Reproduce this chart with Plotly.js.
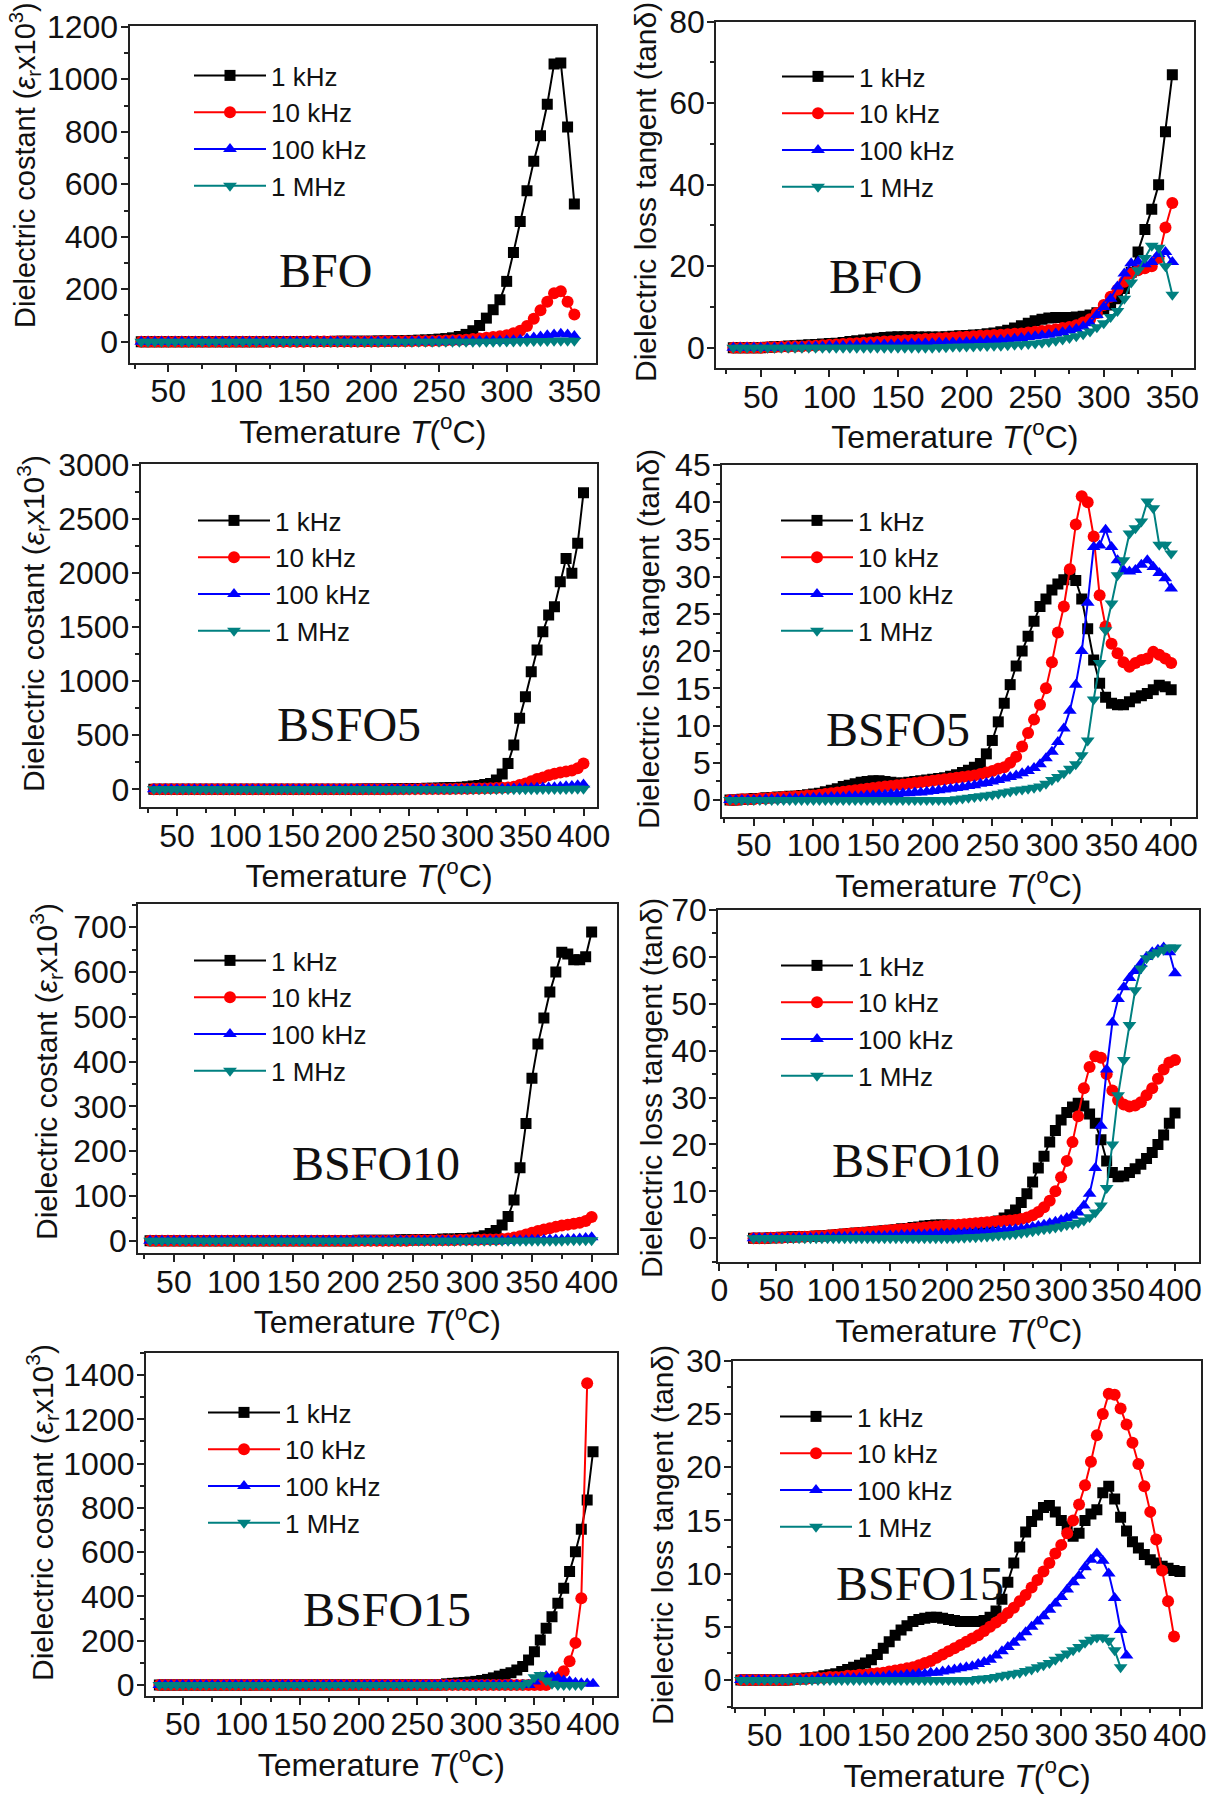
<!DOCTYPE html>
<html>
<head>
<meta charset="utf-8">
<script src="https://cdn.plot.ly/plotly-3.0.1.min.js"></script>
<style>html,body{margin:0;padding:0;background:#fff;}#chart{width:1216px;height:1794px;}</style>
</head>
<body>
<div id="chart"></div>
<script>
// ---------------- DATA ----------------
const T350 = [30,35,40,45,50,55,60,65,70,75,80,85,90,95,100,105,110,115,120,125,130,135,140,145,150,155,160,165,170,175,180,185,190,195,200,205,210,215,220,225,230,235,240,245,250,255,260,265,270,275,280,285,290,295,300,305,310,315,320,325,330,335,340,345,350];
const T400 = [30,35,40,45,50,55,60,65,70,75,80,85,90,95,100,105,110,115,120,125,130,135,140,145,150,155,160,165,170,175,180,185,190,195,200,205,210,215,220,225,230,235,240,245,250,255,260,265,270,275,280,285,290,295,300,305,310,315,320,325,330,335,340,345,350,355,360,365,370,375,380,385,390,395,400];

const freqLabels = ['1 kHz', '10 kHz', '100 kHz', '1 MHz'];
const samples = ['BFO', 'BSFO5', 'BSFO10', 'BSFO15'];
const epsTitle = 'Dielectric costant (<i>ε</i><sub>r</sub>x10<sup>3</sup>)';
const tanTitle = 'Dielectric loss tangent (tanδ)';
const xTitle = 'Temerature <i>T</i>(<sup>o</sup>C)';

// BFO dielectric constant
const bfoEps1k = [0,0,0,0,0,0,0,0,0,0, 0,0,0,0,0,0,0,0,0,1, 1,1,1,1,1,1,1,1,1,2, 2,2,2,2,2,3,3,3,4,4, 5,6,7,8,10,12,15,20,28,42, 62,90,122,160,230,340,458,575,688,785, 905,1058,1062,818,525];
const bfoEps10k = [0,0,0,0,0,0,0,0,0,0, 0,0,0,0,0,0,0,0,0,0, 0,0,0,0,0,1,1,1,1,1, 1,1,1,1,1,1,2,2,2,2, 2,3,3,3,4,5,6,7,8,10, 12,15,18,21,25,32,42,60,88,120, 152,185,192,152,104];
const bfoEps100k = [0,0,0,0,0,0,0,0,0,0, 0,0,0,0,0,0,0,0,0,0, 0,0,0,0,0,0,0,0,0,0, 0,0,0,0,0,0,0,0,0,0, 1,1,1,1,1,1,2,2,2,2, 3,3,4,4,5,6,8,12,16,20, 25,28,30,28,22];
const bfoEps1M = [0,0,0,0,0,0,0,0,0,0, 0,0,0,0,0,0,0,0,0,0, 0,0,0,0,0,0,0,0,0,0, 0,0,0,0,0,0,0,0,0,0, 0,0,0,0,0,0,0,0,0,0, 0,0,0,1,1,1,2,2,3,3, 3,4,4,4,4];

// BFO loss tangent
const bfoTan1k = [0,0,0,0,0,0.1,0.2,0.3,0.4,0.5, 0.6,0.7,0.8,0.9,1.0,1.1,1.3,1.5,1.7,1.9, 2.1,2.3,2.5,2.6,2.7,2.7,2.7,2.6,2.6,2.6, 2.6,2.7,2.8,2.9,3.0,3.1,3.2,3.4,3.6,3.9, 4.3,4.8,5.4,6.0,6.6,7.0,7.3,7.4,7.4,7.4, 7.5,7.7,8.0,8.6,9.5,10.5,12,14.5,18.5,23.5, 29,34,40,53,67];
const bfoTan10k = [0,0,0,0,0,0.1,0.1,0.2,0.2,0.3, 0.3,0.4,0.5,0.6,0.7,0.8,0.9,1.0,1.1,1.2, 1.3,1.4,1.5,1.6,1.7,1.8,1.9,2.0,2.1,2.2, 2.3,2.4,2.5,2.6,2.7,2.8,2.9,3.0,3.1,3.2, 3.3,3.4,3.5,3.7,3.9,4.1,4.3,4.5,4.8,5.1, 5.5,6.2,7.0,8.5,10.5,12.5,14.2,16.2,18.2,19, 19.5,20,22,29.5,35.5];
const bfoTan100k = [0,0,0,0,0,0,0,0.1,0.1,0.1, 0.2,0.2,0.3,0.3,0.4,0.4,0.5,0.5,0.6,0.6, 0.7,0.7,0.8,0.8,0.9,0.9,1.0,1.0,1.1,1.1, 1.2,1.2,1.3,1.3,1.4,1.5,1.6,1.7,1.8,1.9, 2.0,2.2,2.4,2.6,2.8,3.0,3.2,3.5,3.8,4.2, 4.6,5.2,6.0,8.0,10,12,15,18.2,20.7,21.1, 20.5,21,23,23.5,21];
const bfoTan1M = [0,0,0,0,0,0,0,0,0,0, 0,0,0,0,0,0,0,0,0,0, 0,0,0,0,0,0,0,0,0,0, 0.1,0.1,0.2,0.2,0.3,0.3,0.4,0.4,0.5,0.5, 0.6,0.7,0.8,0.9,1.0,1.2,1.4,1.7,2.0,2.4, 2.8,3.3,4.0,5.0,6.0,7.5,9,12,16,19, 22,25,24.5,20,13];

// BSFO5 dielectric constant
const bsfo5Eps1k = [0,0,0,0,0,0,0,0,0,0, 0,0,0,0,0,0,0,0,0,0, 0,0,0,0,0,1,1,1,1,1, 1,1,2,2,2,2,3,3,3,4, 4,5,5,6,7,8,9,10,11,12, 14,16,18,20,25,30,36,45,55,86, 142,240,410,657,857,1088,1289,1458,1612,1689, 1921,2136,1998,2275,2744];
const bsfo5Eps10k = [0,0,0,0,0,0,0,0,0,0, 0,0,0,0,0,0,0,0,0,0, 0,0,0,0,0,1,1,1,1,1, 1,1,1,1,1,1,1,1,1,1, 1,1,2,2,2,2,3,3,3,3, 4,4,5,5,6,7,8,9,10,12, 14,18,25,40,55,75,95,110,130,145, 155,165,175,195,240];
const bsfo5Eps100k = [0,0,0,0,0,0,0,0,0,0, 0,0,0,0,0,0,0,0,0,0, 0,0,0,0,0,0,0,0,0,0, 0,0,0,0,0,0,0,0,0,0, 0,0,0,0,0,0,0,0,0,0, 1,1,2,2,2,3,3,4,4,5, 5,6,7,8,10,12,14,16,18,20, 24,28,32,38,45];
const bsfo5Eps1M = [0,0,0,0,0,0,0,0,0,0, 0,0,0,0,0,0,0,0,0,0, 0,0,0,0,0,0,0,0,0,0, 0,0,0,0,0,0,0,0,0,0, 0,0,0,0,0,0,0,0,0,0, 0,0,0,0,0,0,0,0,0,0, 0,1,1,1,2,2,2,3,3,3, 4,4,5,5,6];

// BSFO5 loss tangent
const bsfo5Tan1k = [0,0,0.1,0.1,0.2,0.2,0.3,0.3,0.4,0.4, 0.5,0.5,0.6,0.7,0.8,0.9,1.1,1.3,1.5,1.8, 2.0,2.2,2.4,2.5,2.6,2.6,2.5,2.4,2.3,2.3, 2.4,2.5,2.6,2.7,2.8,2.9,3.0,3.2,3.4,3.7, 4.0,4.4,4.9,6.2,8.0,10.5,13,15.5,18,20, 22,24,26,27,28.2,29,29.6,30.3,29.5,27, 23,18.8,15.7,13.8,13,12.8,12.8,13.2,13.7,14, 14.3,14.8,15.4,15.2,14.8];
const bsfo5Tan10k = [0,0,0.1,0.1,0.1,0.2,0.2,0.3,0.3,0.4, 0.4,0.5,0.5,0.6,0.6,0.7,0.8,0.9,1.0,1.1, 1.2,1.3,1.4,1.5,1.6,1.7,1.8,1.9,2.0,2.1, 2.2,2.3,2.4,2.5,2.6,2.7,2.8,2.9,3.0,3.1, 3.2,3.3,3.5,3.7,3.9,4.2,4.4,5.0,5.8,7.2, 9.0,10.8,12.8,15,18.5,22.5,26,31,37,40.8, 40,35.4,27.5,23.3,21,19.7,18.5,17.9,18.4,18.8, 19,19.9,19.5,19,18.4];
const bsfo5Tan100k = [0,0,0,0,0,0,0.1,0.1,0.1,0.1, 0.2,0.2,0.2,0.2,0.3,0.3,0.3,0.4,0.4,0.4, 0.5,0.5,0.5,0.6,0.6,0.7,0.7,0.8,0.8,0.9, 0.9,1.0,1.0,1.1,1.2,1.3,1.4,1.5,1.6,1.7, 1.9,2.0,2.2,2.3,2.5,2.7,2.9,3.1,3.3,3.6, 3.9,4.3,4.8,5.6,6.5,7.8,9.6,12,15.5,20, 26.5,34,34.2,36.3,34,32.2,30.9,30.7,30.9,31.6, 32.2,31.3,30.5,29.8,28.4];
const bsfo5Tan1M = [0,0,0,0,0,0,0,0,0,0, 0,0,0,0,0,0,0,0,0,0, 0,0,0,0,0,0,0,0,0,0, 0,0,0,0,0,0,0,0,0.1,0.2, 0.3,0.4,0.5,0.6,0.7,0.85,1.0,1.15,1.3,1.4, 1.5,1.65,1.8,2.2,2.7,3.1,3.6,4.2,4.8,6.0, 8.0,13.5,18.4,22.8,26.4,30.2,32.2,35.8,36.5,37.4, 40.1,39.2,34.3,34.3,33.1];

// BSFO10 dielectric constant
const bsfo10Eps1k = [0,0,0,0,0,0,0,0,0,0, 0,0,0,0,0,0,0,0,0,0, 0,0,0,0,0,0,0,0,0,0, 0,0,0,0,0,1,1,1,1,1, 1,1,2,2,2,2,3,3,3,4, 4,4,5,5,6,8,11,16,23,35, 54,91,163,262,363,439,497,555,600,644, 640,627,627,634,689];
const bsfo10Eps10k = [0,0,0,0,0,0,0,0,0,0, 0,0,0,0,0,0,0,0,0,0, 0,0,0,0,0,0,0,0,0,0, 0,0,0,0,0,0,0,0,0,0, 0,0,0,0,1,1,1,1,1,1, 1,1,2,2,2,2,3,3,3,4, 5,7,10,14,18,22,25,28,31,34, 36,38,40,44,53];
const bsfo10Eps100k = [0,0,0,0,0,0,0,0,0,0, 0,0,0,0,0,0,0,0,0,0, 0,0,0,0,0,0,0,0,0,0, 0,0,0,0,0,0,0,0,0,0, 0,0,0,0,0,0,0,0,0,0, 0,0,0,0,0,0,0,0,0,0, 0,1,1,1,2,2,2,3,3,3, 4,4,5,6,8];
const bsfo10Eps1M = [0,0,0,0,0,0,0,0,0,0, 0,0,0,0,0,0,0,0,0,0, 0,0,0,0,0,0,0,0,0,0, 0,0,0,0,0,0,0,0,0,0, 0,0,0,0,0,0,0,0,0,0, 0,0,0,0,0,0,0,0,0,0, 0,0,0,0,0,0,0,0,0,0, 1,1,1,1,1];

// BSFO10 loss tangent
const bsfo10Tan1k = [0,0,0,0.1,0.1,0.2,0.2,0.3,0.3,0.4, 0.4,0.5,0.5,0.6,0.7,0.8,0.9,1.0,1.1,1.2, 1.3,1.4,1.5,1.6,1.7,1.8,2.0,2.1,2.3,2.4, 2.6,2.7,2.8,2.8,2.8,2.7,2.6,2.5,2.5,2.6, 2.8,3.0,3.3,3.7,4.3,5.0,6.0,7.6,9.5,12, 15,17.5,20.5,23,25.2,26.8,28,28.8,28.2,26.5, 24.5,21,16.5,14,13.1,13.3,14,14.8,15.8,17, 18.3,20,22,24.5,26.7];
const bsfo10Tan10k = [0,0,0,0.1,0.1,0.1,0.2,0.2,0.3,0.3, 0.4,0.5,0.5,0.6,0.7,0.8,0.9,1.0,1.1,1.2, 1.3,1.4,1.5,1.6,1.7,1.8,1.9,2.0,2.1,2.2, 2.3,2.4,2.5,2.6,2.7,2.8,2.9,3.0,3.1,3.2, 3.3,3.4,3.5,3.6,3.7,3.8,3.9,4.1,4.4,4.9, 5.6,6.6,8.0,10,13,16.5,20.5,26,32,36.5, 38.8,38.5,35,31.5,29.5,28.5,28.1,28.3,29,30.5, 32,34,36,37.5,38];
const bsfo10Tan100k = [0,0,0,0,0,0,0,0,0.1,0.1, 0.1,0.1,0.2,0.2,0.2,0.3,0.3,0.3,0.4,0.4, 0.4,0.5,0.5,0.5,0.6,0.6,0.7,0.7,0.8,0.8, 0.8,0.9,0.9,1.0,1.0,1.1,1.1,1.2,1.2,1.3, 1.3,1.4,1.5,1.6,1.7,1.8,1.9,2.0,2.2,2.4, 2.6,2.9,3.2,3.5,3.9,4.3,4.8,5.5,7,9.5, 15,24,36,46,51,53.5,55.5,57,58.5,60, 61,61.5,62,61,56.5];
const bsfo10Tan1M = [0,0,0,0,0,0,0,0,0,0, 0,0,0,0,0,0,0,0,0,0, 0,0,0,0,0,0,0,0,0,0, 0,0,0,0,0,0,0.1,0.1,0.2,0.2, 0.3,0.4,0.5,0.6,0.7,0.8,0.9,1.1,1.3,1.5, 1.7,1.9,2.1,2.3,2.5,2.8,3.0,3.3,3.8,4.5, 5.5,7,10.7,20,30.5,38,45.5,52.9,57.5,59.7, 60.5,61,61.5,62,62];

// BSFO15 dielectric constant
const bsfo15Eps1k = [0,0,0,0,0,0,0,0,0,0, 0,0,0,0,0,0,0,0,0,0, 0,0,0,0,0,0,0,0,0,0, 0,0,0,0,0,0,0,0,0,0, 0,0,0,0,0,0,0,0,0,5, 7,9,11,13,16,20,25,32,40,48, 55,68,83,113,150,203,256,308,369,437, 512,602,703,835,1054];
const bsfo15Eps10k = [0,0,0,0,0,0,0,0,0,0, 0,0,0,0,0,0,0,0,0,0, 0,0,0,0,0,0,0,0,0,0, 0,0,0,0,0,0,0,0,0,0, 0,0,0,0,0,0,0,0,0,0, 0,0,0,0,0,0,0,0,0,0, 0,0,0,0,0,0,0,15,35,62, 107,190,392,1363];
const bsfo15Eps100k = [0,0,0,0,0,0,0,0,0,0, 0,0,0,0,0,0,0,0,0,0, 0,0,0,0,0,0,0,0,0,0, 0,0,0,0,0,0,0,0,0,0, 0,0,0,0,0,0,0,0,0,0, 0,0,0,0,0,0,0,0,0,0, 0,0,0,0,15,35,40,38,30,20, 15,10,8,6,5];
const bsfo15Eps1M = [0,0,0,0,0,0,0,0,0,0, 0,0,0,0,0,0,0,0,0,0, 0,0,0,0,0,0,0,0,0,0, 0,0,0,0,0,0,0,0,0,0, 0,0,0,0,0,0,0,0,0,0, 0,0,0,0,0,0,0,0,0,0, 0,0,0,10,35,45,20,5,0,0, 0,0,0];

// BSFO15 loss tangent
const bsfo15Tan1k = [0,0,0,0,0,0,0,0,0,0.1, 0.1,0.2,0.2,0.3,0.4,0.5,0.6,0.8,1.0,1.2, 1.4,1.6,1.9,2.4,3.0,3.6,4.2,4.7,5.1,5.5, 5.7,5.8,5.9,5.9,5.8,5.7,5.6,5.5,5.5,5.5, 5.5,5.6,5.9,6.5,7.6,9.2,11,12.5,13.9,14.9, 15.5,16.2,16.4,15.8,15,14.4,13.5,13.8,15,15.6, 16,17.6,18.2,17,15.3,14,13,12.4,11.8,11.3, 11,10.7,10.5,10.3,10.2];
const bsfo15Tan10k = [0,0,0,0,0,0,0,0,0,0.1, 0.1,0.1,0.2,0.2,0.2,0.3,0.3,0.3,0.4,0.4, 0.5,0.5,0.6,0.65,0.7,0.8,0.9,1.0,1.1,1.2, 1.4,1.6,1.8,2.1,2.4,2.7,3.0,3.3,3.6,3.9, 4.2,4.6,5.0,5.4,5.8,6.3,6.8,7.4,8.0,8.7, 9.4,10.2,11,11.9,12.7,13.8,15,16.5,18.3,20.5, 23,25,26.9,26.8,25.5,24,22.3,20.3,18.2,15.8, 13.2,10.3,7.4,4.1];
const bsfo15Tan100k = [0,0,0,0,0,0,0,0,0,0, 0,0,0,0.1,0.1,0.1,0.1,0.2,0.2,0.2, 0.2,0.3,0.3,0.3,0.3,0.4,0.4,0.4,0.5,0.5, 0.6,0.6,0.7,0.7,0.8,0.9,1.0,1.1,1.2,1.3, 1.5,1.7,1.9,2.3,2.7,3.1,3.5,4.0,4.5,5.0, 5.5,6.0,6.6,7.2,7.8,8.5,9.2,9.8,10.6,11.3, 11.9,11.2,10,7.7,4.7,2.3];
const bsfo15Tan1M = [0,0,0,0,0,0,0,0,0,0, 0,0,0,0,0,0,0,0,0,0, 0,0,0,0,0,0,0,0,0,0, 0,0,0,0,0,0,0,0,0,0, 0.1,0.15,0.2,0.3,0.4,0.5,0.6,0.7,0.85,1.0, 1.2,1.4,1.6,1.9,2.2,2.5,2.8,3.1,3.5,3.8, 4.0,4.0,3.7,2.8,1.2];

// ---------------- CHART ----------------
const W = 1216, H = 1794;
const FONT = 'Liberation Sans, Arial, Helvetica, sans-serif';
const SERIF = 'Liberation Serif, Times New Roman, serif';
const colors = ['#000000', '#ff0000', '#0000ff', '#008080'];
const symbols = ['square', 'circle', 'triangle-up', 'triangle-down'];
const msizes = [11, 12, 12, 12];

const panels = [
  {T: T350, ys: [bfoEps1k, bfoEps10k, bfoEps100k, bfoEps1M], ytitle: epsTitle, sample: samples[0]},
  {T: T350, ys: [bfoTan1k, bfoTan10k, bfoTan100k, bfoTan1M], ytitle: tanTitle, sample: samples[0]},
  {T: T400, ys: [bsfo5Eps1k, bsfo5Eps10k, bsfo5Eps100k, bsfo5Eps1M], ytitle: epsTitle, sample: samples[1]},
  {T: T400, ys: [bsfo5Tan1k, bsfo5Tan10k, bsfo5Tan100k, bsfo5Tan1M], ytitle: tanTitle, sample: samples[1]},
  {T: T400, ys: [bsfo10Eps1k, bsfo10Eps10k, bsfo10Eps100k, bsfo10Eps1M], ytitle: epsTitle, sample: samples[2]},
  {T: T400, ys: [bsfo10Tan1k, bsfo10Tan10k, bsfo10Tan100k, bsfo10Tan1M], ytitle: tanTitle, sample: samples[2]},
  {T: T400, ys: [bsfo15Eps1k, bsfo15Eps10k, bsfo15Eps100k, bsfo15Eps1M], ytitle: epsTitle, sample: samples[3]},
  {T: T400, ys: [bsfo15Tan1k, bsfo15Tan10k, bsfo15Tan100k, bsfo15Tan1M], ytitle: tanTitle, sample: samples[3]}
];

// layout geometry (pixels): plot box, axis ranges, tick steps, legend, sample label and y-title placement
const geom = [
  {box: [129.5, 596, 26, 363],        xr: [21.3, 366],   yr: [-81, 1203],   yd: 200, ym: 100, leg: [189, 52],   lab: [325, 270],  yt: [25, 165, 29]},
  {box: [716.3, 1193.6, 21.7, 368.3], xr: [17.6, 365.5], yr: [-5.06, 80],   yd: 20,  ym: 10,  leg: [777, 53],   lab: [875, 277],  yt: [645, 192, 30]},
  {box: [140.8, 597.2, 464, 807.3],   xr: [18.8, 411.8], yr: [-166, 3009],  yd: 500, ym: 250, leg: [193, 497],  lab: [349, 724],  yt: [33, 624, 30]},
  {box: [722.1, 1195.5, 465, 816.7],  xr: [23.4, 420.4], yr: [-2.24, 45],   yd: 5,   ym: 2.5, leg: [776, 497],  lab: [898, 729],  yt: [648, 639, 30]},
  {box: [138.1, 616.7, 904.3, 1253.3],xr: [20, 421],     yr: [-28, 751],    yd: 100, ym: 50,  leg: [189, 937],  lab: [376, 1163], yt: [46, 1072, 30]},
  {box: [718.2, 1199.4, 910, 1261.7], xr: [-1, 421.4],   yr: [-5, 70],      yd: 10,  ym: 5,   leg: [776, 942],  lab: [916, 1160], yt: [651, 1088, 30]},
  {box: [145.9, 616.7, 1352.7, 1696], xr: [18.5, 420.2], yr: [-50, 1501],   yd: 200, ym: 100, leg: [203, 1389], lab: [387, 1609], yt: [42, 1513, 30]},
  {box: [732.9, 1201.3, 1360.7, 1706.7], xr: [23.3, 418], yr: [-2.5, 30],   yd: 5,   ym: 2.5, leg: [775, 1393], lab: [920, 1583], yt: [662, 1535, 30]}
];

const traces = [];
const layout = {
  width: W, height: H,
  margin: {l: 0, r: 0, t: 0, b: 0},
  paper_bgcolor: '#ffffff', plot_bgcolor: '#ffffff',
  font: {family: FONT, color: '#111111'},
  showlegend: true,
  annotations: []
};

function axisCommon() {
  return {
    ticks: 'outside', ticklen: 7, tickwidth: 2, tickcolor: '#222',
    showline: true, linewidth: 2, linecolor: '#222', mirror: true,
    showgrid: false, zeroline: false, tickangle: 0, tick0: 0,
    tickfont: {family: FONT, size: 32, color: '#111'},
    automargin: false, fixedrange: true
  };
}

panels.forEach((p, i) => {
  const g = geom[i];
  const n = i + 1;
  const sfx = n === 1 ? '' : String(n);
  const legId = n === 1 ? 'legend' : 'legend' + n;
  const [l, r, t, b] = g.box;

  layout['xaxis' + sfx] = Object.assign(axisCommon(), {
    domain: [l / W, r / W], anchor: 'y' + sfx, range: g.xr, dtick: 50,
    ticklabelstandoff: -8,
    minor: {dtick: 25, ticks: 'outside', ticklen: 4, tickwidth: 2, tickcolor: '#222', showgrid: false},
    title: {text: xTitle, font: {family: FONT, size: 32, color: '#111'}, standoff: 0}
  });
  layout['yaxis' + sfx] = Object.assign(axisCommon(), {
    domain: [1 - b / H, 1 - t / H], anchor: 'x' + sfx, range: g.yr, dtick: g.yd,
    ticklabelstandoff: -4,
    minor: {dtick: g.ym, ticks: 'outside', ticklen: 4, tickwidth: 2, tickcolor: '#222', showgrid: false}
  });
  layout[legId] = {
    x: g.leg[0] / W, y: 1 - g.leg[1] / H, xanchor: 'left', yanchor: 'top',
    bgcolor: 'rgba(0,0,0,0)', borderwidth: 0, itemwidth: 72,
    font: {family: FONT, size: 26, color: '#111'},
    traceorder: 'normal', tracegroupgap: 0, itemclick: false, itemdoubleclick: false
  };
  // sample name
  layout.annotations.push({
    xref: 'paper', yref: 'paper', x: g.lab[0] / W, y: 1 - g.lab[1] / H,
    xanchor: 'center', yanchor: 'middle', showarrow: false,
    text: p.sample, font: {family: SERIF, size: 48, color: '#111'}
  });
  // y-axis title
  layout.annotations.push({
    xref: 'paper', yref: 'paper', x: g.yt[0] / W, y: 1 - g.yt[1] / H,
    xanchor: 'center', yanchor: 'middle', showarrow: false, textangle: -90,
    text: p.ytitle, font: {family: FONT, size: g.yt[2], color: '#111'}
  });

  p.ys.forEach((ys, k) => {
    traces.push({
      type: 'scatter', mode: 'lines+markers',
      x: p.T, y: ys,
      xaxis: 'x' + sfx, yaxis: 'y' + sfx,
      name: freqLabels[k], legend: legId,
      line: {color: colors[k], width: 2},
      marker: {symbol: symbols[k], size: msizes[k], color: colors[k], line: {width: 0}},
      cliponaxis: true, hoverinfo: 'skip'
    });
  });
});

Plotly.newPlot('chart', traces, layout, {staticPlot: true, displayModeBar: false});
</script>
</body>
</html>
